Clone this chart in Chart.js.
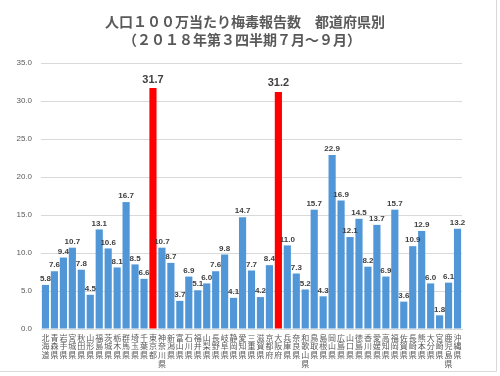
<!DOCTYPE html>
<html><head><meta charset="utf-8">
<script src="https://cdn.jsdelivr.net/npm/chart.js@4"></script>
<style>html,body{margin:0;padding:0;background:#fff}#wrap{width:500px;height:376px;position:relative}</style>
</head><body><div id="wrap"><canvas id="c" width="500" height="376"></canvas></div>
<script>
const titleLines = ['人口１００万当たり梅毒報告数　都道府県別', '（２０１８年第３四半期７月～９月）'];
const prefectures = ['北海道','青森県','岩手県','宮城県','秋田県','山形県','福島県','茨城県','栃木県','群馬県','埼玉県','千葉県','東京都','神奈川県','新潟県','富山県','石川県','福井県','山梨県','長野県','岐阜県','静岡県','愛知県','三重県','滋賀県','京都府','大阪府','兵庫県','奈良県','和歌山県','鳥取県','島根県','岡山県','広島県','山口県','徳島県','香川県','愛媛県','高知県','福岡県','佐賀県','長崎県','熊本県','大分県','宮崎県','鹿児島県','沖縄県'];
const rates = [5.8,7.6,9.4,10.7,7.8,4.5,13.1,10.6,8.1,16.7,8.5,6.6,31.7,10.7,8.7,3.7,6.9,5.1,6.0,7.6,9.8,4.1,14.7,7.7,4.2,8.4,31.2,11.0,7.3,5.2,15.7,4.3,22.9,16.9,12.1,14.5,8.2,13.7,6.9,15.7,3.6,10.9,12.9,6.0,1.8,6.1,13.2];
const highlighted = ['東京都','大阪府'];
const yTicks = [0,5,10,15,20,25,30,35];

const BLUE = '#5197d8', RED = '#ff0000';
const colors = prefectures.map(p => highlighted.includes(p) ? RED : BLUE);

const valueLabels = {
  id: 'valueLabels',
  afterDatasetsDraw(chart) {
    const ctx = chart.ctx;
    const meta = chart.getDatasetMeta(0);
    ctx.save();
    ctx.textAlign = 'center';
    ctx.textBaseline = 'bottom';
    ctx.fillStyle = '#404040';
    meta.data.forEach((bar, i) => {
      const big = highlighted.includes(prefectures[i]);
      ctx.font = big ? 'bold 11px "Liberation Sans", Arial, sans-serif' : 'bold 8px "Liberation Sans", Arial, sans-serif';
      ctx.fillText(rates[i].toFixed(1), bar.x, bar.y - (big ? 3 : 2));
    });
    ctx.restore();
  }
};
const titleAndFrame = {
  id: 'titleAndFrame',
  afterDraw(chart) {
    const ctx = chart.ctx;
    ctx.save();
    ctx.fillStyle = '#595959';
    ctx.textAlign = 'center';
    ctx.textBaseline = 'middle';
    ctx.font = 'bold 14px "Noto Sans CJK JP", sans-serif';
    ctx.fillText(titleLines[0], 245, 22);
    ctx.fillText(titleLines[1], 242, 40);
    ctx.strokeStyle = '#d9d9d9';
    ctx.lineWidth = 1;
    ctx.beginPath();
    ctx.moveTo(496.5, 0); ctx.lineTo(496.5, 371.5); ctx.lineTo(0, 371.5);
    ctx.stroke();
    ctx.restore();
  }
};

new Chart(document.getElementById('c'), {
  type: 'bar',
  data: {
    labels: prefectures.map(p => p.split('')),
    datasets: [{
      data: rates,
      backgroundColor: colors,
      borderColor: 'rgba(255,255,255,0.35)',
      borderWidth: 0,
      barPercentage: 0.8,
      categoryPercentage: 1.0
    }]
  },
  options: {
    responsive: false,
    animation: false,
    devicePixelRatio: 1,
    layout: { padding: { top: 63, left: 0, right: 38, bottom: 0 } },
    plugins: { legend: { display: false }, title: { display: false }, tooltip: { enabled: false } },
    scales: {
      x: {
        grid: { display: false, drawTicks: false },
        border: { display: true, color: '#d9d9d9' },
        ticks: {
          autoSkip: false, maxRotation: 0, minRotation: 0, padding: 4,
          color: '#595959',
          font: { size: 8, family: '"Noto Sans CJK JP", sans-serif', lineHeight: 1.12 }
        },
        afterFit(s) { s.height = 47; }
      },
      y: {
        min: 0, max: 35,
        afterBuildTicks(s) { s.ticks = yTicks.map(v => ({ value: v })); },
        grid: { color: '#d9d9d9', drawTicks: false },
        border: { display: false },
        ticks: {
          padding: 9, color: '#595959',
          font: { size: 8, family: '"Liberation Sans", Arial, sans-serif' },
          callback: v => Number(v).toFixed(1)
        },
        afterFit(s) { s.width = 41; }
      }
    }
  },
  plugins: [valueLabels, titleAndFrame]
});
</script></body></html>
